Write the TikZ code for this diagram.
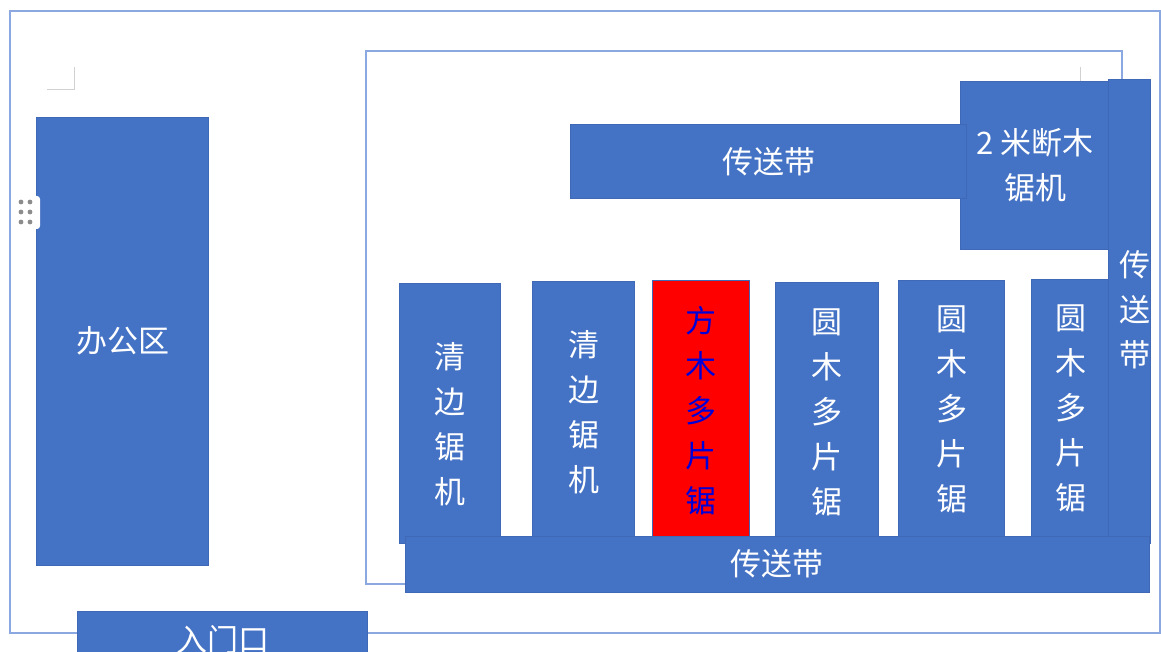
\documentclass[tikz,border=0pt]{standalone}
\usepackage{fontspec}
\setmainfont{Noto Sans CJK SC}
\usepackage{tikz}
\definecolor{boxblue}{HTML}{4472C4}
\definecolor{boxedge}{HTML}{3F68B6}
\definecolor{frameblue}{HTML}{8BA8E0}
\tikzset{
	zone/.style={draw=frameblue,line width=1.5pt},
	cropmark/.style={draw=black!18,line width=1pt},
	areatext/.style={text=white,inner sep=0pt,align=center,font=\fontsize{31}{45}\selectfont},
	area/.style={areatext,draw=boxedge,fill=boxblue,line width=.8pt},
	hotarea/.style={area,fill=red,text=blue!85!black}
}
\begin{document}
\begin{tikzpicture}[x=1pt,y=-1pt]
	\useasboundingbox (0,0) rectangle (1161,652);

	\draw[zone] (10,11) rectangle (1160,633);
	\draw[zone] (366,51) rectangle (1122,584);
	\draw[cropmark] (47,90) -- (74,90) -- (74,67);
	\draw[cropmark] (1080,67) -- (1080,82);

	\node[area,minimum width=172pt,minimum height=448pt] (office) at (122.5,341) {办公区};

	% grip handle
	\fill[white,rounded corners=3pt] (14,196) rectangle (40,229);
	\foreach \gx in {21,30}
		\foreach \gy in {202,212,222}
			\fill[black!45] (\gx,\gy) circle (2.4pt);

	\node[area,minimum width=290pt,minimum height=58pt] (gate) at (222.5,640) {入门口};

	\node[area,minimum width=149pt,minimum height=168pt] (cutter) at (1035,165) {2 米断木\\锯机};
	\node[area,minimum width=396pt,minimum height=74pt] (topbelt) at (768.5,161.5) {传送带};

	\node[area,minimum width=101pt,minimum height=260pt] (edger1) at (450,413) {};
	\node[areatext] (edger1text) at (450,424) {清\\边\\锯\\机};
	\node[area,minimum width=102pt,minimum height=262pt] (edger2) at (583.5,412) {清\\边\\锯\\机};
	\node[hotarea,minimum width=97pt,minimum height=262pt] (square) at (701,411) {方\\木\\多\\片\\锯};
	\node[area,minimum width=103pt,minimum height=260pt] (round1) at (826.5,412) {圆\\木\\多\\片\\锯};
	\node[area,minimum width=106pt,minimum height=258pt] (round2) at (951.5,409.5) {圆\\木\\多\\片\\锯};
	\node[area,minimum width=80pt,minimum height=258pt] (round3) at (1071,408) {圆\\木\\多\\片\\锯};

	\node[area,minimum width=42pt,minimum height=464pt] (sidebelt) at (1129.5,311) {};
	\node[areatext] (sidetext) at (1135,310) {传\\送\\带};
	\node[area,minimum width=744pt,minimum height=56pt] (mainbelt) at (777,564) {传送带};
\end{tikzpicture}
\end{document}
